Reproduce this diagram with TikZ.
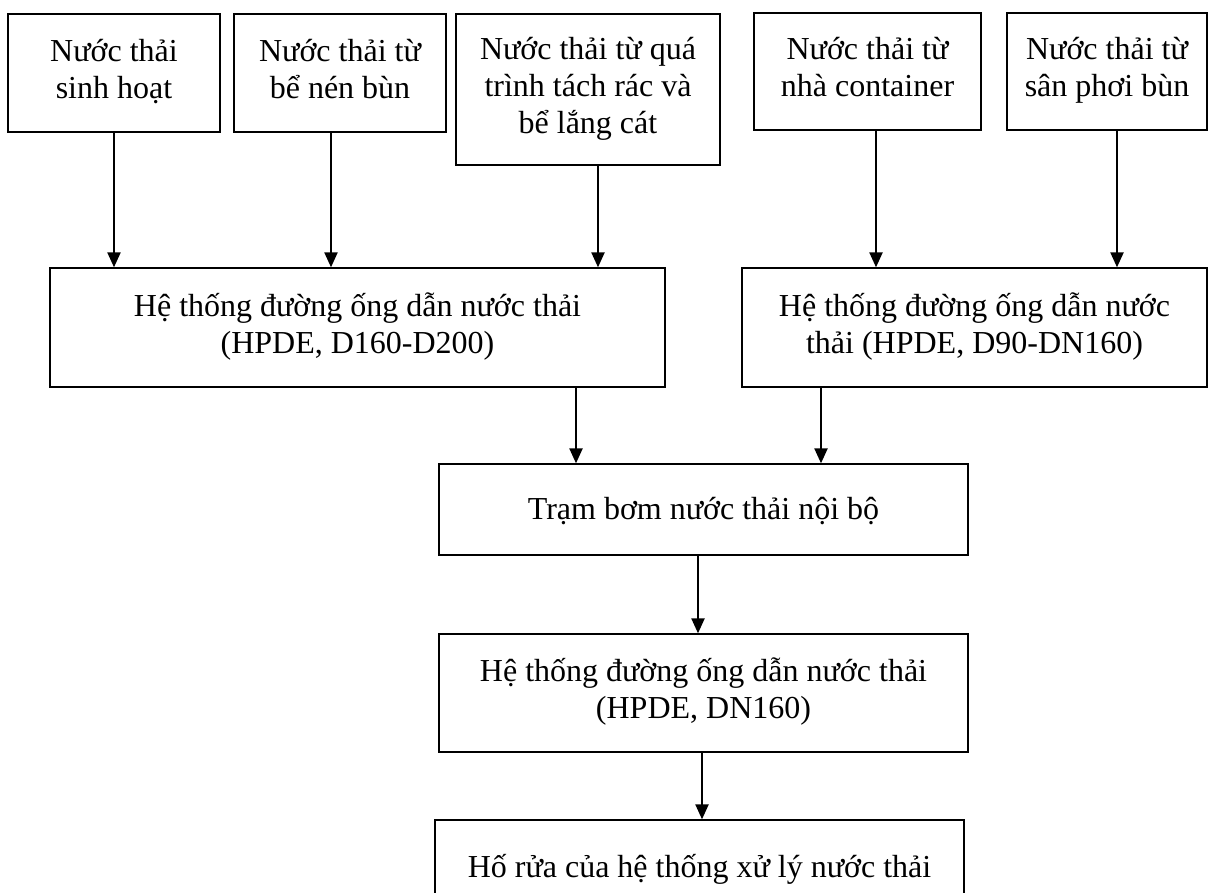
\documentclass[tikz,border=0pt]{standalone}
\usepackage{fontspec}
\setmainfont{Liberation Serif}
\usetikzlibrary{arrows.meta}
% fixed line strut: 28pt above and 9pt below the baseline (37pt line pitch)
\newcommand{\linestrut}{\rule[-9pt]{0pt}{37pt}}
\begin{document}
\begin{tikzpicture}[x=1pt,y=-1pt,
  box/.style={draw, line width=1.3pt, rectangle, inner sep=0pt, align=center,
    font=\fontsize{32}{37}\selectfont,
    execute at begin node=\linestrut, execute at end node=\linestrut},
  flow/.style={line width=2.2pt, -{Triangle[width=13pt,length=15pt]}}]
\useasboundingbox (0,0) rectangle (1209,893);
\clip (0,0) rectangle (1209,893);

% sources
\node[box, minimum width=212pt, minimum height=118pt] (b1) at (114,73) {Nước thải\\sinh hoạt};
\node[box, minimum width=212pt, minimum height=118pt] (b2) at (340,73) {Nước thải từ\\bể nén bùn};
\node[box, minimum width=264pt, minimum height=151pt] (b3) at (588,89.5) {Nước thải từ quá\\trình tách rác và\\bể lắng cát};
\node[box, minimum width=227pt, minimum height=117pt] (b4) at (867.5,71.5) {Nước thải từ\\nhà container};
\node[box, minimum width=200pt, minimum height=117pt] (b5) at (1107,71.5) {Nước thải từ\\sân phơi bùn};

% collecting pipelines
\node[box, minimum width=615pt, minimum height=119pt] (p1) at (357.5,327.5) {Hệ thống đường ống dẫn nước thải\\(HPDE, D160-D200)};
\node[box, minimum width=465pt, minimum height=119pt] (p2) at (974.5,327.5) {Hệ thống đường ống dẫn nước\\thải (HPDE, D90-DN160)};

% pump station and outlet
\node[box, minimum width=529pt, minimum height=91pt] (pump) at (703.5,509.5) {Trạm bơm nước thải nội bộ};
\node[box, minimum width=529pt, minimum height=118pt] (p3) at (703.5,693) {Hệ thống đường ống dẫn nước thải\\(HPDE, DN160)};
\node[box, minimum width=529pt, minimum height=96pt] (pond) at (699.5,868) {Hố rửa của hệ thống xử lý nước thải};

% connectors
\draw[flow] (b1.south) -- (b1.south |- p1.north);
\draw[flow] ([xshift=-9pt]b2.south) -- ([xshift=-9pt]b2.south |- p1.north);
\draw[flow] ([xshift=10pt]b3.south) -- ([xshift=10pt]b3.south |- p1.north);
\draw[flow] ([xshift=8.5pt]b4.south) -- ([xshift=8.5pt]b4.south |- p2.north);
\draw[flow] ([xshift=10pt]b5.south) -- ([xshift=10pt]b5.south |- p2.north);
\draw[flow] ([xshift=218.5pt]p1.south) -- ([xshift=218.5pt]p1.south |- pump.north);
\draw[flow] ([xshift=-153.5pt]p2.south) -- ([xshift=-153.5pt]p2.south |- pump.north);
\draw[flow] ([xshift=-5.5pt]pump.south) -- ([xshift=-5.5pt]pump.south |- p3.north);
\draw[flow] ([xshift=-1.5pt]p3.south) -- ([xshift=-1.5pt]p3.south |- pond.north);
\end{tikzpicture}
\end{document}
